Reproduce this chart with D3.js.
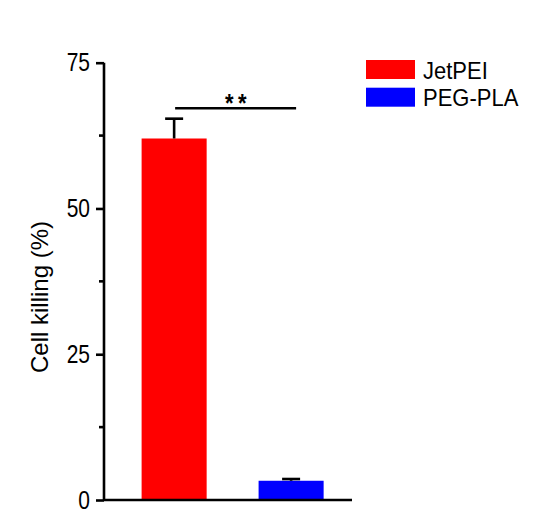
<!DOCTYPE html>
<html>
<head>
<meta charset="utf-8">
<script src="https://cdn.jsdelivr.net/npm/d3@7"></script>
<style>
	body { margin: 0; background: #fff; }
	svg { display: block; font-family: Arial, "Liberation Sans", sans-serif; }
</style>
</head>
<body>
<svg></svg>
<script>

// data
var groups = ['JetPEI', 'PEG-PLA']
var values = [62, 3.3]
var errors = [3.4, 0.3]
var colors = ['#ff0000', '#0000ff']
var majorTicks = [0, 25, 50, 75]
var minorTicks = [12.5, 37.5, 62.5]
var sigLabel = '**'
var yTitle = 'Cell killing (%)'

var width = 533
var height = 514

var svg = d3.select('svg')
	.attr('width', width)
	.attr('height', height)

var plot = { left: 104, right: 352, top: 62.7, bottom: 500 }
// the source picture is stretched vertically, text too
var stretch = 'scale(1,1.2)'

var x = d3.scaleBand()
	.domain(groups)
	.range([plot.left, plot.right])
	.paddingInner(0.444)
	.paddingOuter(0.282)
	.align(0.57)

var y = d3.scaleLinear()
	.domain([0, 75])
	.range([plot.bottom, plot.top])

// bars
svg.append('g').selectAll('rect')
	.data(groups)
	.enter()
	.append('rect')
	.attr('x', function(d) { return x(d) })
	.attr('y', function(d, i) { return y(values[i]) })
	.attr('width', x.bandwidth())
	.attr('height', function(d, i) { return y(0) - y(values[i]) })
	.attr('fill', function(d, i) { return colors[i] })

// error bars (upper only)
var err = svg.append('g')
	.attr('stroke', '#000')
	.attr('stroke-width', 2.6)

groups.forEach(function(g, i) {
	var cx = x(g) + x.bandwidth() / 2
	err.append('line')
		.attr('x1', cx).attr('x2', cx)
		.attr('y1', y(values[i])).attr('y2', y(values[i] + errors[i]))
	err.append('line')
		.attr('x1', cx - 9).attr('x2', cx + 9)
		.attr('y1', y(values[i] + errors[i])).attr('y2', y(values[i] + errors[i]))
})

// y axis
var yAxis = svg.append('g')
	.attr('transform', 'translate(' + plot.left + ',0)')
	.call(d3.axisLeft(y).tickValues(majorTicks).tickSize(8).tickPadding(6).tickFormat(d3.format('d')))

yAxis.select('.domain').attr('stroke-width', 2.6).attr('d', 'M0,' + plot.top + 'V' + plot.bottom)
yAxis.selectAll('.tick line').attr('stroke-width', 2.6)
yAxis.selectAll('.tick text')
	.attr('font-size', 21)
	.attr('fill', '#000')
	.attr('transform', stretch)

svg.append('g')
	.attr('transform', 'translate(' + plot.left + ',0)')
	.selectAll('line')
	.data(minorTicks)
	.enter()
	.append('line')
	.attr('x1', -5).attr('x2', 0)
	.attr('y1', function(d) { return y(d) })
	.attr('y2', function(d) { return y(d) })
	.attr('stroke', '#000')
	.attr('stroke-width', 2.6)

// x axis line
svg.append('line')
	.attr('x1', plot.left).attr('x2', plot.right)
	.attr('y1', y(0)).attr('y2', y(0))
	.attr('stroke', '#000')
	.attr('stroke-width', 2.6)

// y title
svg.append('text')
	.attr('transform', 'translate(47.5,297) rotate(-90)')
	.attr('text-anchor', 'middle')
	.attr('font-size', 24)
	.text(yTitle)

// significance
var sx1 = x(groups[0]) + x.bandwidth() / 2 + 1
var sx2 = x(groups[1]) + x.bandwidth() / 2 + 5
var sy = 108.3
svg.append('line')
	.attr('x1', sx1).attr('x2', sx2)
	.attr('y1', sy).attr('y2', sy)
	.attr('stroke', '#000')
	.attr('stroke-width', 2.6)
svg.append('text')
	.attr('transform', 'translate(' + ((sx1 + sx2) / 2 + 2.5) + ',111.5) ' + stretch)
	.attr('text-anchor', 'middle')
	.attr('font-size', 22)
	.attr('font-weight', 'bold')
	.attr('letter-spacing', 4.5)
	.text(sigLabel)

// legend
var legend = svg.append('g')
	.selectAll('g')
	.data(groups)
	.enter()
	.append('g')
	.attr('transform', function(d, i) { return 'translate(366,' + (60 + i * 27.7) + ')' })

legend.append('rect')
	.attr('width', 49)
	.attr('height', 19)
	.attr('fill', function(d, i) { return colors[i] })

legend.append('text')
	.attr('transform', 'translate(57,18.5) scale(1,1.12)')
	.attr('font-size', 22)
	.text(function(d) { return d })

</script>
</body>
</html>
